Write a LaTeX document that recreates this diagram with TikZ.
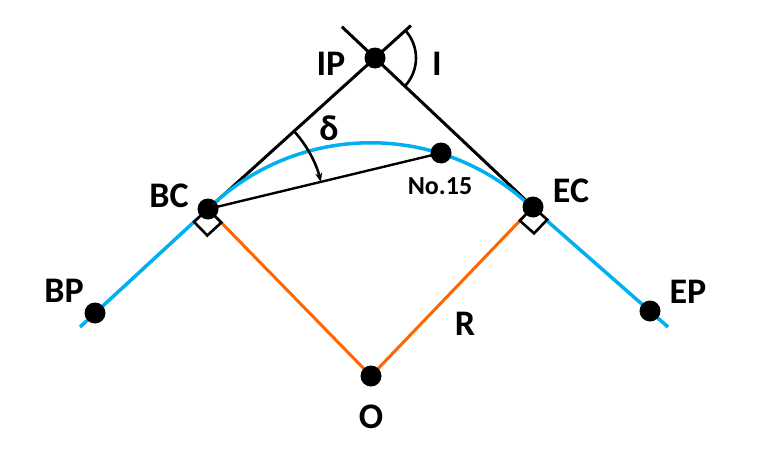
\documentclass[tikz,border=0pt]{standalone}
\usepackage{fontspec}
\setmainfont{Carlito}
\usetikzlibrary{calc,arrows.meta}
\definecolor{curveblue}{RGB}{0,176,240}
\definecolor{radorange}{RGB}{255,102,0}
\begin{document}
\begin{tikzpicture}[x=1pt,y=-1pt,
  dot/.style={circle,fill=black,inner sep=0pt,minimum size=21pt},
  biglabel/.style={inner sep=0pt,font=\fontsize{36}{36}\selectfont\bfseries},
  smalllabel/.style={inner sep=0pt,font=\fontsize{26}{26}\selectfont\bfseries},
  tangent/.style={draw=black,line width=3pt},
  chordline/.style={draw=black,line width=2.4pt},
  curve/.style={draw=curveblue,line width=3.5pt},
  radius line/.style={draw=radorange,line width=3pt},
  anglearc/.style={draw=black,line width=2.6pt},
  rightmark/.style={draw=black,line width=2.6pt,fill=white}]
\useasboundingbox (0,0) rectangle (768,450);
% points
\coordinate (pBC) at (208,209);
\coordinate (pEC) at (533,207);
\coordinate (pIP) at (375,58);
\coordinate (pN) at (441,153);
\coordinate (pBP) at (95,313);
\coordinate (pEP) at (650,311);
\coordinate (pO) at (371,376);
\coordinate (bpend) at (80,327);
\coordinate (epend) at (668,327);
\coordinate (tLend) at ($(pBC)!1.215!(pIP)$);
\coordinate (tRend) at ($(pEC)!1.21!(pIP)$);
% tangents
\draw[tangent] (pBC) -- (tLend);
\draw[tangent] (pEC) -- (tRend);
% chord
\draw[chordline] (pBC) -- (pN);
% radii
\draw[radius line] (pBC) -- (pO) -- (pEC);
% curve
\draw[curve] (bpend) -- (pBC) arc[start angle=134.3,end angle=46.2,radius=233pt] -- (epend);
% right angle marks
\coordinate (s1) at ($(pBC)!19pt!(bpend)$);
\coordinate (s2) at ($(pBC)!19pt!(pO)$);
\draw[rightmark] (pBC) -- (s1) -- ($(s1)+(s2)-(pBC)$) -- (s2) -- cycle;
\coordinate (r1) at ($(pEC)!19pt!(epend)$);
\coordinate (r2) at ($(pEC)!19pt!(pO)$);
\draw[rightmark] (pEC) -- (r1) -- ($(r1)+(r2)-(pEC)$) -- (r2) -- cycle;
% delta arc
\draw[anglearc,-{Stealth[length=9pt,width=7pt]}] let \p1=($(pIP)-(pBC)$), \p2=($(pN)-(pBC)$),
  \n1={atan2(\y1,\x1)}, \n2={atan2(\y2,\x2)} in
  ($(pBC)+(\n1:116pt)$) arc[start angle=\n1,end angle=\n2,radius=116pt];
% I arc
\draw[anglearc] let \p1=($(tLend)-(pIP)$), \p2=($(pEC)-(pIP)$),
  \n1={atan2(\y1,\x1)}, \n2={atan2(\y2,\x2)} in
  ($(pIP)+(\n1:41pt)$) arc[start angle=\n1,end angle=\n2,radius=41pt];
% dots
\node[dot] (BC) at (pBC) {};
\node[dot] (EC) at (pEC) {};
\node[dot] (IP) at (pIP) {};
\node[dot] (N15) at (pN) {};
\node[dot] (BP) at (pBP) {};
\node[dot] (EP) at (pEP) {};
\node[dot] (O) at (pO) {};
% labels
\node[biglabel] (lIP) at (331,64) {IP};
\node[biglabel] (lI) at (437,64) {I};
\node[biglabel] (ld) at (329,128) {δ};
\node[smalllabel] (lN) at (440,186) {No.15};
\node[biglabel] (lBC) at (169,196) {BC};
\node[biglabel] (lEC) at (571,191) {EC};
\node[biglabel] (lBP) at (64,291) {BP};
\node[biglabel] (lEP) at (688,292) {EP};
\node[biglabel] (lR) at (465,324) {R};
\node[biglabel] (lO) at (371,417) {O};
\end{tikzpicture}
\end{document}
